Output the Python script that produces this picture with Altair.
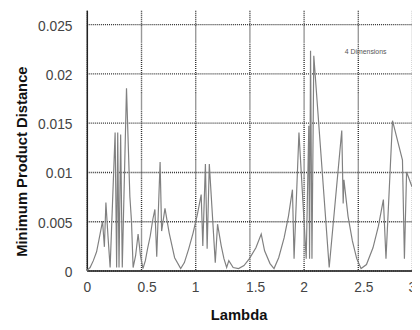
import altair as alt
import pandas as pd

lam = [0.000, 0.030, 0.060, 0.090, 0.110, 0.145, 0.162, 0.176, 0.195, 0.215,
       0.261, 0.275, 0.285, 0.297, 0.312, 0.327, 0.366, 0.397, 0.412, 0.427,
       0.450, 0.473, 0.495, 0.518, 0.540, 0.560, 0.585, 0.609, 0.628, 0.645,
       0.676, 0.690, 0.721, 0.760, 0.810, 0.866, 0.900, 0.940, 0.980, 1.020,
       1.055, 1.070, 1.094, 1.110, 1.130, 1.185, 1.206, 1.240, 1.265, 1.290,
       1.310, 1.350, 1.400, 1.450, 1.500, 1.560, 1.609, 1.640, 1.690, 1.727,
       1.770, 1.820, 1.860, 1.897, 1.912, 1.957, 2.024, 2.048, 2.055, 2.064,
       2.077, 2.094, 2.236, 2.352, 2.365, 2.372, 2.410, 2.450, 2.490, 2.530,
       2.580, 2.640, 2.690, 2.736, 2.760, 2.820, 2.912, 2.930, 2.950, 3.000]
dist = [0.0000, 0.0003, 0.0010, 0.0019, 0.0030, 0.0050, 0.0024, 0.0069, 0.0035, 0.0003,
        0.0140, 0.0003, 0.0140, 0.0003, 0.0138, 0.0003, 0.0185, 0.0075, 0.0050, 0.0003,
        0.0015, 0.0037, 0.0015, 0.0002, 0.0010, 0.0022, 0.0035, 0.0052, 0.0062, 0.0014,
        0.0110, 0.0040, 0.0063, 0.0038, 0.0013, 0.0002, 0.0008, 0.0022, 0.0038, 0.0057,
        0.0077, 0.0025, 0.0108, 0.0022, 0.0108, 0.0008, 0.0047, 0.0025, 0.0012, 0.0003,
        0.0010, 0.0003, 0.0002, 0.0005, 0.0012, 0.0023, 0.0037, 0.0020, 0.0007, 0.0002,
        0.0013, 0.0033, 0.0055, 0.0082, 0.0012, 0.0140, 0.0012, 0.0147, 0.0012, 0.0223,
        0.0012, 0.0218, 0.0003, 0.0142, 0.0068, 0.0092, 0.0055, 0.0030, 0.0012, 0.0002,
        0.0006, 0.0023, 0.0045, 0.0072, 0.0012, 0.0152, 0.0112, 0.0012, 0.0100, 0.0085]

x_ticks = [0, 0.5, 1, 1.5, 2, 2.5, 3]
y_ticks = [0, 0.005, 0.01, 0.015, 0.02, 0.025]

note_text = ["4 Dimensions"]
note_x = [2.38]
note_y = [0.0222]

df = pd.DataFrame({"Lambda": lam, "MPD": dist})
notes = pd.DataFrame({"t": note_text, "x": note_x, "y": note_y})

FONT = "Liberation Sans"

xs = alt.Scale(domain=[0, 3], nice=False, zero=False)
ys = alt.Scale(domain=[0, 0.0264], nice=False, zero=False)

x_axis = alt.Axis(values=x_ticks, format="~g", title="Lambda", grid=True,
                  gridColor="#333", gridDash=[1, 1], gridOpacity=1, gridWidth=1.4,
                  domainColor="#222", domainWidth=1.5, ticks=False,
                  labelAlign="left", labelOffset=-4, labelPadding=10,
                  labelFont=FONT, labelFontSize=14, labelColor="#444",
                  titleFont=FONT, titleFontSize=15, titleFontWeight="bold",
                  titleColor="#111", titleX=154, titleY=45, titleBaseline="middle")
y_axis = alt.Axis(values=y_ticks, format="~g", title="Minimum Product Distance", grid=True,
                  gridColor="#333", gridDash=[1, 1], gridOpacity=1, gridWidth=1.4,
                  domainColor="#222", domainWidth=1.5, ticks=False,
                  labelAlign="right", labelBaseline="middle", labelOffset=2, labelPadding=15,
                  labelFont=FONT, labelFontSize=14, labelColor="#444",
                  titleFont=FONT, titleFontSize=15, titleFontWeight="bold",
                  titleColor="#111", titleX=-66, titleY=153, titleAngle=-90,
                  titleBaseline="middle", titleAlign="center")

line = alt.Chart(df).mark_line(color="#808080", strokeWidth=1.2).encode(
    x=alt.X("Lambda:Q", scale=xs, axis=x_axis),
    y=alt.Y("MPD:Q", scale=ys, axis=y_axis),
    order=alt.Order("Lambda:Q"),
)

note = alt.Chart(notes).mark_text(align="left", baseline="middle", fontSize=7,
                                  color="#555", font=FONT).encode(
    x=alt.X("x:Q", scale=xs),
    y=alt.Y("y:Q", scale=ys),
    text="t:N",
)

chart = alt.layer(line, note).properties(
    width=330, height=264,
    autosize=alt.AutoSizeParams(type="none"),
    padding={"left": 80, "top": 0, "right": 0, "bottom": 58},
    background="white",
).configure_view(stroke=None)

chart.save("out.html", embed_options={"renderer": "svg", "actions": False})
